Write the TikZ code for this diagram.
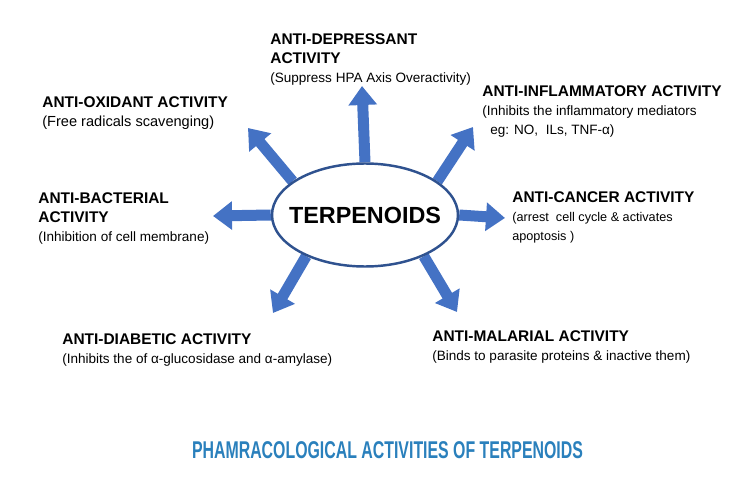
\documentclass[tikz,border=0pt]{standalone}
\usepackage{fontspec}
\setmainfont{Liberation Sans}
\usetikzlibrary{arrows.meta,backgrounds,positioning,shapes.geometric}

\definecolor{arrblue}{RGB}{68,114,196}
\definecolor{ringblue}{RGB}{47,82,143}
\definecolor{titleblue}{RGB}{42,128,188}
\newcommand{\hd}{\fontsize{8.8}{11}\selectfont\bfseries}

\begin{document}
\begin{tikzpicture}[
    act/.style={anchor=north west, inner sep=0pt, align=left,
      font=\fontsize{7.7}{11}\selectfont},
    blk/.style={arrblue, line width=0.22cm,
      -{Triangle[width=0.55cm,length=0.38cm]}}]
  \useasboundingbox (0,0) rectangle (15,9.98);

  \node[ellipse, draw=ringblue, line width=1.4pt, fill=white,
    minimum width=3.72cm, minimum height=2.06cm, inner sep=0pt] (ter) at (7.30,5.68) {};
  \node[font=\fontsize{13.3}{15}\selectfont\bfseries] (terlbl) at (ter) {TERPENOIDS};

  % activities
  \node[act] (dep) at (5.40,9.32) {{\hd ANTI-DEPRESSANT}\\ {\hd ACTIVITY}\\
    (Suppress HPA Axis Overactivity)};
  \node[act, font=\fontsize{8.3}{11}\selectfont] (oxi) at (0.84,8.06)
    {{\hd ANTI-OXIDANT ACTIVITY}\\ (Free radicals scavenging)};
  \node[act] (bac) at (0.76,6.14) {{\hd ANTI-BACTERIAL}\\ {\hd ACTIVITY}\\
    (Inhibition of cell membrane)};
  \node[act] (inf) at (9.64,8.28) {{\hd ANTI-INFLAMMATORY ACTIVITY}\\
    (Inhibits the inflammatory mediators\\ \hspace*{0.16cm}eg: NO,\ \ ILs, TNF-α)};
  \node[act, font=\fontsize{7.2}{11}\selectfont] (can) at (10.24,6.16)
    {{\hd ANTI-CANCER ACTIVITY}\\ (arrest\ \ cell cycle \& activates\\ apoptosis )};
  \node[act] (dia) at (1.24,3.32) {{\hd ANTI-DIABETIC ACTIVITY}\\
    (Inhibits the of α-glucosidase and α-amylase)};
  \node[act] (mal) at (8.64,3.38) {{\hd ANTI-MALARIAL ACTIVITY}\\
    (Binds to parasite proteins \& inactive them)};

  \node[text=titleblue, font=\fontsize{13.8}{15}\selectfont\bfseries] (ttl) at (7.75,0.98)
    {\scalebox{0.655}[1]{PHAMRACOLOGICAL ACTIVITIES OF TERPENOIDS}};

  % arrow tips
  \coordinate (tDep) at (7.24,8.26);
  \coordinate (tOxi) at (4.96,7.42);
  \coordinate (tBac) at (4.26,5.66);
  \coordinate (tInf) at (9.46,7.44);
  \coordinate (tCan) at (10.10,5.62);
  \coordinate (tDia) at (5.46,3.72);
  \coordinate (tMal) at (9.14,3.74);

  \begin{scope}[on background layer]
    \draw[blk] (ter.north) -- (tDep);
    \draw[blk] (ter.155) -- (tOxi);
    \draw[blk] (ter.west) -- (tBac);
    \draw[blk] (ter.25) -- (tInf);
    \draw[blk] (ter.east) -- (tCan);
    \draw[blk] (ter.215) -- (tDia);
    \draw[blk] (ter.325) -- (tMal);
  \end{scope}
\end{tikzpicture}
\end{document}
